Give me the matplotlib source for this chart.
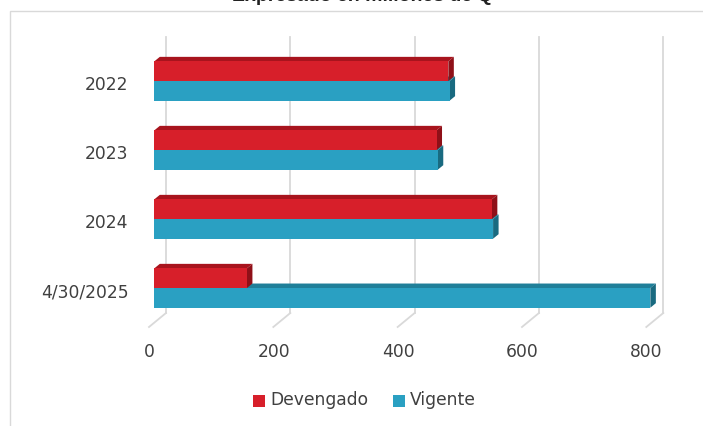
import matplotlib
matplotlib.use("Agg")
import matplotlib.pyplot as plt
from matplotlib.patches import Polygon, Rectangle

# ---- data ----
categories = ["2022", "2023", "2024", "4/30/2025"]
devengado = [473, 454, 543, 149]
vigente = [475, 456, 545, 798]
xticks = [0, 200, 400, 600, 800]
title = "Expresado en millones de Q"
series_names = ["Devengado", "Vigente"]

# ---- style ----
W, H = 703, 426
RED = ("#d71f2a", "#a8141d", "#8f1018")       # front, top, side
BLUE = ("#2aa0c2", "#1f7f99", "#196a80")
GRID = "#d9d9d9"
TXT = "#404040"
FONT = "DejaVu Sans"
FS = 12.3

fig = plt.figure(figsize=(W / 100, H / 100), dpi=100)

# figure border (chart area)
fig.patches.append(Rectangle((10 / W, -0.1), 1.2, 1 - 11 / H + 0.1,
                             transform=fig.transFigure, fill=False,
                             edgecolor=GRID, lw=1.0))

# title (partially cut at the top, as in the source)
fig.text(362 / W, 1 - 1 / H, title, ha="center", va="baseline",
         fontsize=14, fontweight="bold", family="Liberation Sans", color="#222222")

# axes placement
ax_l, ax_r = 154.3, 651.6
ax_t, ax_b = 37, 313
ax = fig.add_axes([ax_l / W, 1 - ax_b / H, (ax_r - ax_l) / W, (ax_b - ax_t) / H])
ax.set_xlim(0, 800)
ax.set_ylim(3.362, -0.638)
ax.axis("off")

pxx = (ax_r - ax_l) / 800.0      # px per x unit
pxy = (ax_b - ax_t) / 4.0        # px per y unit

def dx(px):
    return px / pxx

def dy(px):
    return px / pxy

# back wall gridlines + floor lines
for v in xticks:
    xb = v + dx(11.7)
    xf = v - dx(5.3)
    ax.plot([xb, xb], [-0.638, 3.362], color=GRID, lw=1.3, clip_on=False, zorder=1)
    ax.plot([xb, xf], [3.362, 3.362 + dy(14)], color=GRID, lw=1.3, clip_on=False, zorder=1)
    ax.text(v - dx(5), 3.362 + dy(39), f"{v}", ha="center", va="center",
            fontsize=FS, family=FONT, color=TXT, clip_on=False)

bh = 0.285
ddx, ddy = dx(5.5), dy(4.5)

def bar3d(y0, y1, v, cols, z):
    front, top, side = cols
    ax.add_patch(Polygon([(0, y0), (v, y0), (v + ddx, y0 - ddy), (ddx, y0 - ddy)],
                         closed=True, facecolor=top, edgecolor="none", zorder=z, clip_on=False))
    ax.add_patch(Polygon([(v, y0), (v + ddx, y0 - ddy), (v + ddx, y1 - ddy), (v, y1)],
                         closed=True, facecolor=side, edgecolor="none", zorder=z, clip_on=False))
    ax.add_patch(Rectangle((0, y0), v, y1 - y0, facecolor=front, edgecolor="none",
                           zorder=z + 0.1, clip_on=False))

for i, cat in enumerate(categories):
    bar3d(i, i + bh, vigente[i], BLUE, 3)
    bar3d(i - bh, i, devengado[i], RED, 4)
    ax.text(-dx(26), i + dy(4), cat, ha="right", va="center", fontsize=FS,
            family=FONT, color=TXT, clip_on=False)

# legend
leg_y = 1 - 401 / H
for (x_sq, x_tx, name, col) in [(253, 270, series_names[0], RED[0]),
                                (393, 410, series_names[1], BLUE[0])]:
    fig.patches.append(Rectangle((x_sq / W, leg_y - 6 / H), 12 / W, 12 / H,
                                 transform=fig.transFigure, facecolor=col, edgecolor="none"))
    fig.text(x_tx / W, leg_y + 1 / H, name, ha="left", va="center", fontsize=FS,
             family=FONT, color=TXT)

fig.savefig("out.png", dpi=100)
